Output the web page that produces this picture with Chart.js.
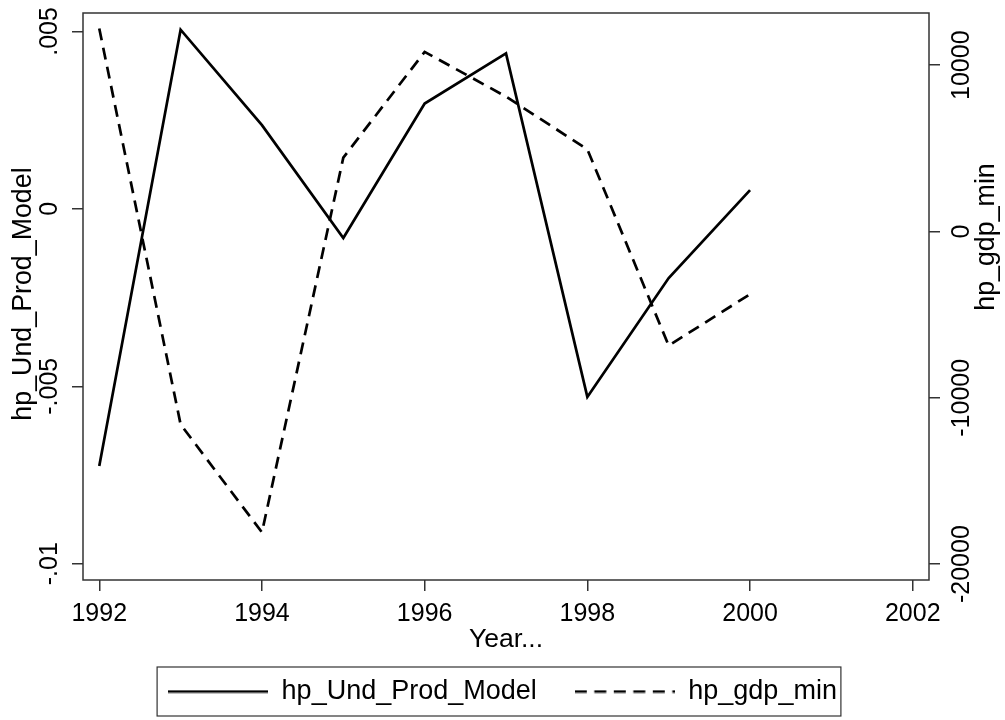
<!DOCTYPE html>
<html>
<head>
<meta charset="utf-8">
<script src="https://cdn.jsdelivr.net/npm/chart.js@4.4.1/dist/chart.umd.min.js"></script>
<style>
  html, body { margin: 0; padding: 0; background: #fff; }
  #wrap { width: 1005px; height: 720px; }
</style>
</head>
<body>
<div id="wrap"><canvas id="chart" width="1005" height="720"></canvas></div>
<script>
// =======================
// Data
// =======================
const years = [1992, 1993, 1994, 1995, 1996, 1997, 1998, 1999, 2000];
const undProd = [-0.00725, 0.00505, 0.00236, -0.00082, 0.00297, 0.00438, -0.00530, -0.00195, 0.00053];
const gdpMin = [12200, -11600, -18090, 4440, 10800, 8110, 4940, -6860, -3770];

const xTicks = [1992, 1994, 1996, 1998, 2000, 2002];
const leftTicks = [-0.01, -0.005, 0, 0.005];
const leftTickLabels = ['-.01', '-.005', '0', '.005'];
const rightTicks = [-20000, -10000, 0, 10000];
const rightTickLabels = ['-20000', '-10000', '0', '10000'];

const FONT = '"Liberation Sans", Arial, Helvetica, sans-serif';
const INK = '#000';
const AXIS = '#333';
const LINE_W = 2.7;
const DASH = [12, 7.5];

// legend samples: small canvases used as point styles (legend only, points are hidden)
function sample(dash) {
  const c = document.createElement('canvas');
  c.width = 100;
  c.height = 4;
  const g = c.getContext('2d');
  g.strokeStyle = INK;
  g.lineWidth = LINE_W;
  g.setLineDash(dash);
  g.beginPath();
  g.moveTo(0, 2);
  g.lineTo(100, 2);
  g.stroke();
  return c;
}

// =======================
// Small plugins: frame, rotated y labels, legend box
// =======================
const frame = {
  id: 'frame',
  afterDatasetsDraw(chart) {
    const { ctx, chartArea: a } = chart;
    ctx.save();
    ctx.strokeStyle = AXIS;
    ctx.lineWidth = 1.5;
    ctx.strokeRect(a.left, a.top, a.right - a.left, a.bottom - a.top);
    ctx.restore();
  }
};

function drawUp(ctx, text, x, y, size) {
  ctx.save();
  ctx.translate(x, y);
  ctx.rotate(-Math.PI / 2);
  ctx.font = size + 'px ' + FONT;
  ctx.fillStyle = INK;
  ctx.textAlign = 'center';
  ctx.textBaseline = 'middle';
  ctx.fillText(text, 0, 0);
  ctx.restore();
}

const sideText = {
  id: 'sideText',
  afterDraw(chart) {
    const { ctx, scales } = chart;
    leftTicks.forEach((v, i) => drawUp(ctx, leftTickLabels[i], 50, scales.y.getPixelForValue(v), 25));
    rightTicks.forEach((v, i) => drawUp(ctx, rightTickLabels[i], 962, scales.y2.getPixelForValue(v), 25));
    drawUp(ctx, 'hp_Und_Prod_Model', 24, 294, 26.8);
    drawUp(ctx, 'hp_gdp_min', 987, 237, 26.8);
  }
};

const legendBox = {
  id: 'legendBox',
  afterDraw(chart) {
    const hb = chart.legend.legendHitBoxes;
    if (!hb || !hb.length) return;
    const last = hb[hb.length - 1];
    const mid = hb[0].top + hb[0].height / 2;
    const left = hb[0].left - 11;
    const { ctx } = chart;
    ctx.save();
    ctx.strokeStyle = AXIS;
    ctx.lineWidth = 1.2;
    ctx.strokeRect(left, mid - 24.5, last.left + last.width + 4 - left, 49);
    ctx.restore();
  }
};

const tickGrid = {
  drawOnChartArea: false,
  drawTicks: true,
  tickLength: 11,
  color: AXIS,
  lineWidth: 1.5
};

new Chart(document.getElementById('chart').getContext('2d'), {
  type: 'line',
  data: {
    datasets: [{
      label: 'hp_Und_Prod_Model',
      data: years.map((yr, i) => ({ x: yr, y: undProd[i] })),
      yAxisID: 'y',
      borderColor: INK,
      backgroundColor: INK,
      borderWidth: LINE_W,
      pointRadius: 0,
      pointStyle: sample([]),
      tension: 0,
      fill: false
    }, {
      label: 'hp_gdp_min',
      data: years.map((yr, i) => ({ x: yr, y: gdpMin[i] })),
      yAxisID: 'y2',
      borderColor: INK,
      backgroundColor: INK,
      borderWidth: LINE_W,
      borderDash: DASH,
      pointRadius: 0,
      pointStyle: sample(DASH),
      tension: 0,
      fill: false
    }]
  },
  options: {
    responsive: false,
    animation: false,
    layout: { padding: { top: 13, left: 0, right: 0, bottom: 5 } },
    plugins: {
      legend: {
        position: 'bottom',
        labels: {
          usePointStyle: true,
          pointStyleWidth: 100,
          padding: 38,
          color: INK,
          font: { family: FONT, size: 27 }
        }
      },
      tooltip: { enabled: false }
    },
    scales: {
      x: {
        type: 'linear',
        min: 1991.8,
        max: 2002.2,
        afterBuildTicks: s => { s.ticks = xTicks.map(v => ({ value: v })); },
        afterFit: s => { s.height = 60; },
        ticks: { callback: v => String(v), padding: 8, color: INK, font: { family: FONT, size: 25 }, maxRotation: 0 },
        grid: tickGrid,
        border: { display: false },
        title: { display: true, text: 'Year...', color: INK, padding: 0, font: { family: FONT, size: 26.5, lineHeight: '0px' } }
      },
      y: {
        position: 'left',
        min: -0.01046,
        max: 0.00552,
        afterBuildTicks: s => { s.ticks = leftTicks.map(v => ({ value: v })); },
        afterFit: s => { s.width = 83; },
        ticks: { display: false },
        grid: tickGrid,
        border: { display: false }
      },
      y2: {
        position: 'right',
        min: -20954,
        max: 13137,
        afterBuildTicks: s => { s.ticks = rightTicks.map(v => ({ value: v })); },
        afterFit: s => { s.width = 76; },
        ticks: { display: false },
        grid: tickGrid,
        border: { display: false }
      }
    }
  },
  plugins: [frame, sideText, legendBox]
});
</script>
</body>
</html>
